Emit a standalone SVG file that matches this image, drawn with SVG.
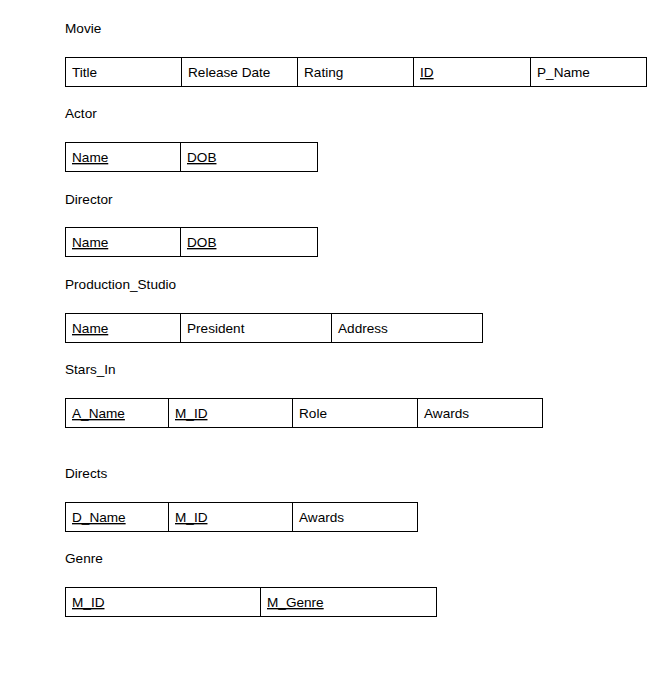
<svg xmlns="http://www.w3.org/2000/svg" width="656" height="674" viewBox="0 0 656 674">
<style>
text{font-family:"Liberation Sans",Arial,sans-serif;font-size:13.6px;fill:#000}
.u{text-decoration:underline}
rect{fill:#fff;stroke:#000;stroke-width:1}
line{stroke:#000;stroke-width:1}
</style>
<rect x="0" y="0" width="656" height="674" style="stroke:none"/>
<g id="movie">
<text x="65" y="33">Movie</text>
<rect x="65.5" y="57.5" width="581" height="29"/>
<line x1="181.5" y1="57.5" x2="181.5" y2="86.5"/>
<line x1="297.5" y1="57.5" x2="297.5" y2="86.5"/>
<line x1="413.5" y1="57.5" x2="413.5" y2="86.5"/>
<line x1="530.5" y1="57.5" x2="530.5" y2="86.5"/>
<text x="72" y="77">Title</text>
<text x="188" y="77">Release Date</text>
<text x="304" y="77">Rating</text>
<text x="420" y="77" class="u">ID</text>
<text x="537" y="77">P_Name</text>
</g>
<g id="actor">
<text x="65" y="118">Actor</text>
<rect x="65.5" y="142.5" width="252" height="29"/>
<line x1="180.5" y1="142.5" x2="180.5" y2="171.5"/>
<text x="72" y="162" class="u">Name</text>
<text x="187" y="162" class="u">DOB</text>
</g>
<g id="director">
<text x="65" y="204">Director</text>
<rect x="65.5" y="227.5" width="252" height="29"/>
<line x1="180.5" y1="227.5" x2="180.5" y2="256.5"/>
<text x="72" y="247" class="u">Name</text>
<text x="187" y="247" class="u">DOB</text>
</g>
<g id="production_studio">
<text x="65" y="289">Production_Studio</text>
<rect x="65.5" y="313.5" width="417" height="29"/>
<line x1="180.5" y1="313.5" x2="180.5" y2="342.5"/>
<line x1="331.5" y1="313.5" x2="331.5" y2="342.5"/>
<text x="72" y="333" class="u">Name</text>
<text x="187" y="333">President</text>
<text x="338" y="333">Address</text>
</g>
<g id="stars_in">
<text x="65" y="374">Stars_In</text>
<rect x="65.5" y="398.5" width="477" height="29"/>
<line x1="168.5" y1="398.5" x2="168.5" y2="427.5"/>
<line x1="292.5" y1="398.5" x2="292.5" y2="427.5"/>
<line x1="417.5" y1="398.5" x2="417.5" y2="427.5"/>
<text x="72" y="418" class="u">A_Name</text>
<text x="175" y="418" class="u">M_ID</text>
<text x="299" y="418">Role</text>
<text x="424" y="418">Awards</text>
</g>
<g id="directs">
<text x="65" y="478">Directs</text>
<rect x="65.5" y="502.5" width="352" height="29"/>
<line x1="168.5" y1="502.5" x2="168.5" y2="531.5"/>
<line x1="292.5" y1="502.5" x2="292.5" y2="531.5"/>
<text x="72" y="522" class="u">D_Name</text>
<text x="175" y="522" class="u">M_ID</text>
<text x="299" y="522">Awards</text>
</g>
<g id="genre">
<text x="65" y="563">Genre</text>
<rect x="65.5" y="587.5" width="371" height="29"/>
<line x1="260.5" y1="587.5" x2="260.5" y2="616.5"/>
<text x="72" y="607" class="u">M_ID</text>
<text x="267" y="607" class="u">M_Genre</text>
</g>
<g id="connectors"></g>
</svg>
